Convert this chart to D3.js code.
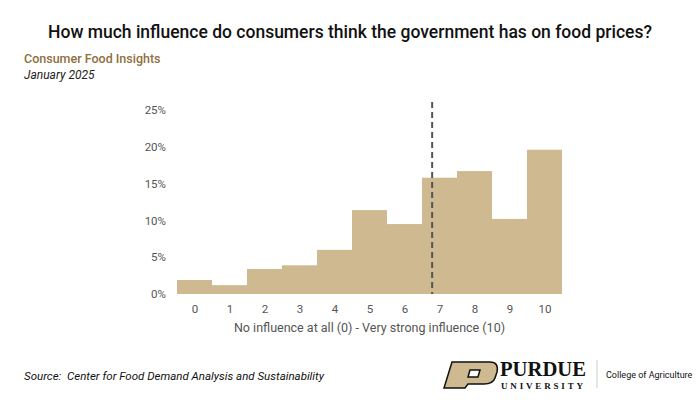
<!DOCTYPE html>
<html><head><meta charset="utf-8">
<script src="https://cdn.jsdelivr.net/npm/d3@7"></script>
<style>body{margin:0;background:#fff}svg{display:block}</style>
</head><body><svg id="svg" width="700" height="420"></svg>
<script>
const categories = [0,1,2,3,4,5,6,7,8,9,10];
const shares = [1.9,1.2,3.4,3.9,6.0,11.4,9.5,15.8,16.7,10.2,19.6];
const meanScore = 6.79;
const yTicks = [0,5,10,15,20,25];

const svg = d3.select('#svg');
const m = {top:110, left:177, right:138, bottom:126};
const W = 700, H = 420;
const x = d3.scaleLinear().domain([-0.5,10.5]).range([m.left, W - m.right]);
const y = d3.scaleLinear().domain([0,25]).range([H - m.bottom, m.top]);
const bw = x(1) - x(0);
const font = 'Roboto, Arial, sans-serif';

svg.append('text').attr('x',350).attr('y',38).attr('text-anchor','middle')
  .attr('font-family',font).attr('font-size',17.5).attr('font-weight',500).attr('fill','#111')
  .text('How much influence do consumers think the government has on food prices?');
svg.append('text').attr('x',24).attr('y',63).attr('font-family',font).attr('font-size',12.5)
  .attr('fill','#8e6f3e').attr('font-weight',500).text('Consumer Food Insights');
svg.append('text').attr('x',24).attr('y',79).attr('font-family',font).attr('font-size',12)
  .attr('font-style','italic').attr('fill','#222').text('January 2025');

svg.append('g').selectAll('rect').data(categories).join('rect')
  .attr('x', d => x(d) - bw/2).attr('width', bw)
  .attr('y', (d,i) => y(shares[i])).attr('height', (d,i) => y(0) - y(shares[i]))
  .attr('fill','#cfb991');

svg.append('g').attr('transform',`translate(${m.left - 8},0)`)
  .call(d3.axisLeft(y).tickValues(yTicks).tickFormat(d => d + '%').tickSize(0))
  .call(g => g.select('.domain').remove())
  .call(g => g.selectAll('text').attr('font-family',font).attr('font-size',11.5).attr('fill','#555'));

svg.append('g').attr('transform',`translate(0,${y(0) + 8})`)
  .call(d3.axisBottom(x).tickValues(categories).tickFormat(d3.format('d')).tickSize(0))
  .call(g => g.select('.domain').remove())
  .call(g => g.selectAll('text').attr('font-family',font).attr('font-size',11.5).attr('fill','#555'));

svg.append('line').attr('x1',x(meanScore)).attr('x2',x(meanScore))
  .attr('y1',102).attr('y2',y(0)).attr('stroke','#555').attr('stroke-width',2).attr('stroke-dasharray','6,4');

svg.append('text').attr('x',(x(-0.5)+x(10.5))/2).attr('y',332).attr('text-anchor','middle')
  .attr('font-family',font).attr('font-size',12.5).attr('fill','#555')
  .text('No influence at all (0) - Very strong influence (10)');

svg.append('text').attr('x',24).attr('y',380).attr('font-family',font).attr('font-size',11.5)
  .attr('font-style','italic').attr('fill','#111').attr('xml:space','preserve')
  .text('Source:\u00a0 Center for Food Demand Analysis and Sustainability');

// logo
const lg = svg.append('g');
lg.append('path').attr('d','M452,362 L490,362 Q499,362 497,372 L495,378 Q493,384 484,384 L468,384 L465,388 L444,388 Z M470,370 L468,377 L478,377 L480,370 Z')
  .attr('fill','#cfb991').attr('fill-rule','evenodd').attr('stroke','#111').attr('stroke-width',1.5);
lg.append('text').attr('x',500).attr('y',376).attr('font-family','"Liberation Serif", serif')
  .attr('font-size',20).attr('font-weight',700).attr('fill','#111').attr('textLength',86)
  .attr('lengthAdjust','spacingAndGlyphs').text('PURDUE');
lg.append('text').attr('x',501).attr('y',389).attr('font-family','"Liberation Serif", serif')
  .attr('font-size',9).attr('font-weight',700).attr('fill','#111').attr('textLength',84)
  .attr('letter-spacing',2).text('UNIVERSITY');
lg.append('line').attr('x1',597).attr('x2',597).attr('y1',360).attr('y2',388).attr('stroke','#ccc');
lg.append('text').attr('x',606).attr('y',378).attr('font-family',font).attr('font-size',9)
  .attr('fill','#111').text('College of Agriculture');
</script></body></html>
